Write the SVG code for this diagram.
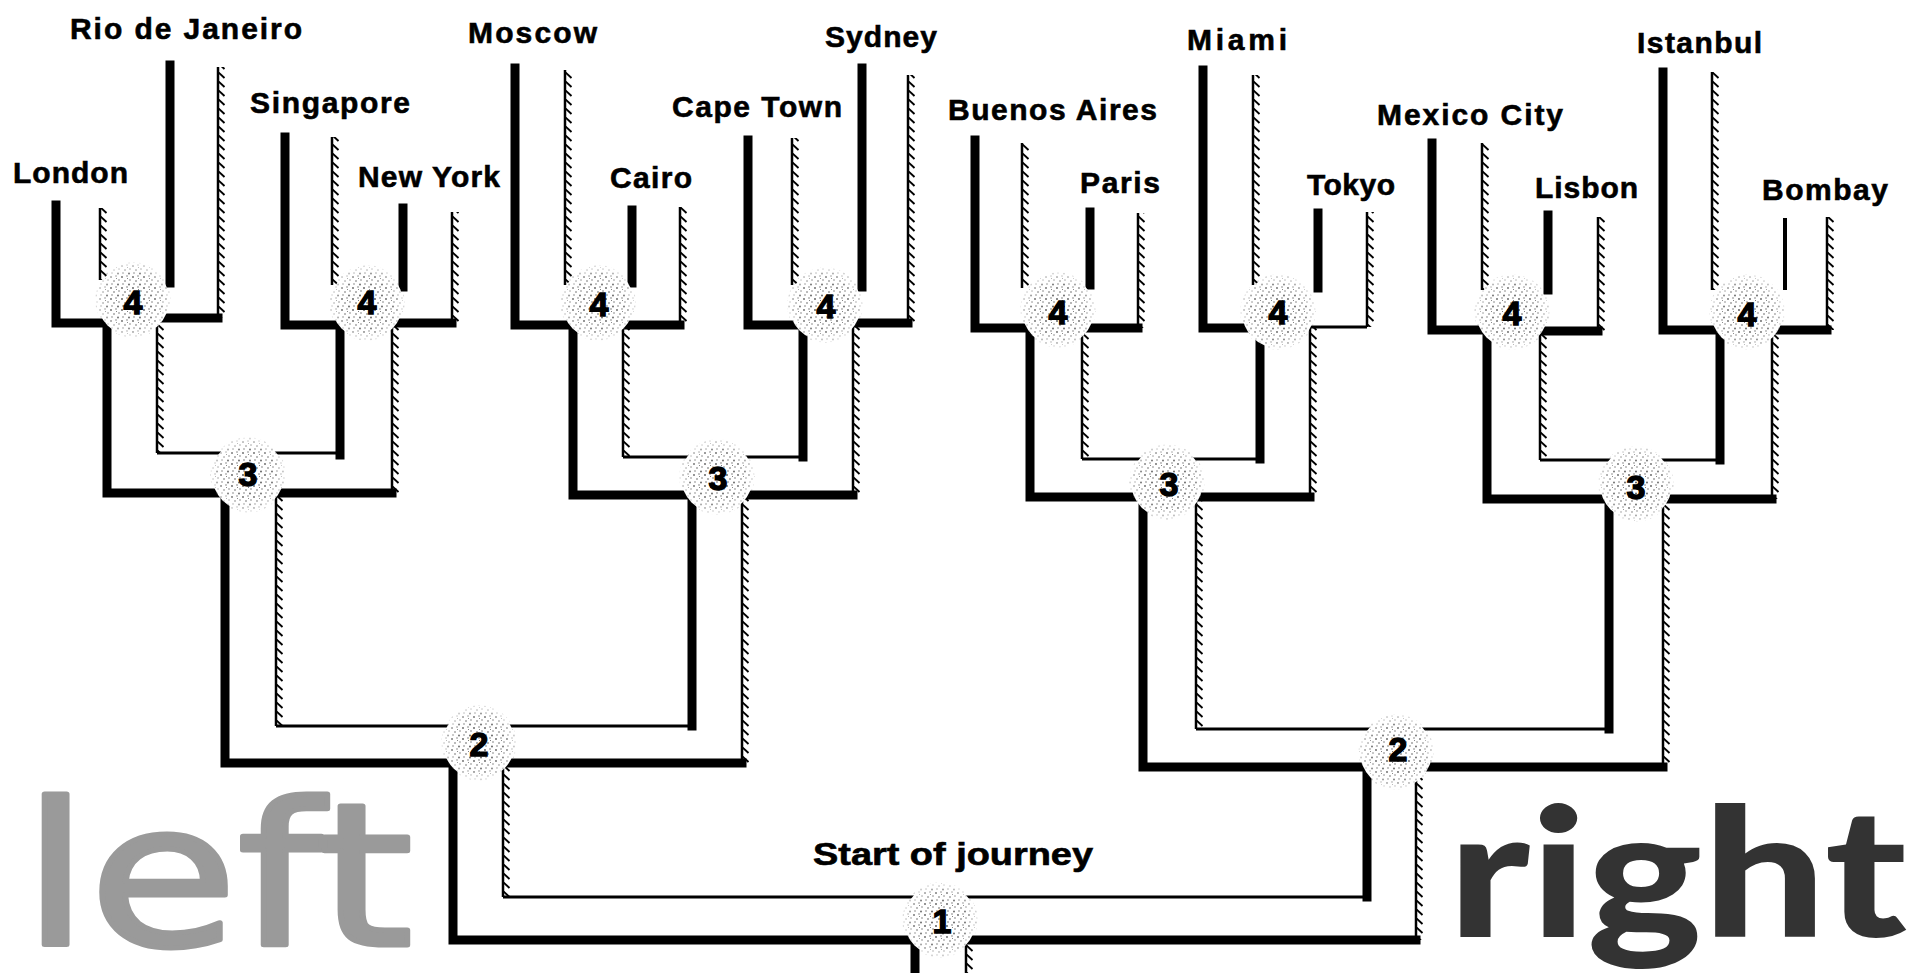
<svg xmlns="http://www.w3.org/2000/svg" width="1911" height="973" viewBox="0 0 1911 973">
<style>
.tk{fill:none;stroke:#000;stroke-width:9;stroke-linecap:square;stroke-linejoin:miter}
.tk4{fill:none;stroke:#000;stroke-width:4}
.tn{fill:none;stroke:#000;stroke-width:3}
.ht{fill:none;stroke:#000;stroke-width:2.5}
.hr{fill:url(#tk)}
.lbl{font-family:"Liberation Sans",Arial,sans-serif;font-weight:bold;font-size:30px;fill:#000;stroke:#000;stroke-width:0.6}
.num{font-family:"Liberation Sans",Arial,sans-serif;font-weight:bold;font-size:34px;fill:#000;stroke:#000;stroke-width:1.4;text-anchor:middle}
.base{fill:#fff}
.dots{fill:url(#dots)}
</style>
<defs>
<pattern id="tk" width="9" height="9" patternUnits="userSpaceOnUse">
<path d="M0.5,0.5 L6.5,6" stroke="#000" stroke-width="1.9" fill="none"/>
</pattern>
<pattern id="dots" width="11" height="11" patternUnits="userSpaceOnUse">
<circle cx="1" cy="2" r="0.9" fill="#444"/>
<circle cx="6" cy="1" r="0.7" fill="#444"/>
<circle cx="4" cy="6" r="0.8" fill="#444"/>
<circle cx="9" cy="5" r="0.7" fill="#444"/>
<circle cx="2" cy="9" r="0.7" fill="#444"/>
<circle cx="8" cy="9.5" r="0.9" fill="#444"/>
<circle cx="6.5" cy="3.5" r="0.5" fill="#444"/>
</pattern>
<radialGradient id="rg">
<stop offset="0" stop-color="#fff"/>
<stop offset="0.7" stop-color="#ccc"/>
<stop offset="1" stop-color="#333"/>
</radialGradient>
<mask id="fm" maskContentUnits="objectBoundingBox">
<circle cx="0.5" cy="0.5" r="0.5" fill="url(#rg)"/>
</mask>
</defs>
<rect width="1911" height="973" fill="#fff"/>

<g id="connectors">
<path class="tk" d="M56,205 V323 H107 V493 H225 V763 H453 V940 H915 V973"/>
<path class="tk" d="M170,65 V283"/>
<path class="tk" d="M285,137 V325 H340 V455"/>
<path class="tk" d="M403,208 V287"/>
<path class="tk" d="M515,68 V325 H573 V495 H692 V726"/>
<path class="tk" d="M632,210 V283"/>
<path class="tk" d="M748,140 V325 H803 V457"/>
<path class="tk" d="M862,68 V287"/>
<path class="tk" d="M975,140 V328 H1030 V497 H1143 V767 H1367 V897"/>
<path class="tk" d="M1090,212 V285"/>
<path class="tk" d="M1203,70 V328 H1260 V459"/>
<path class="tk" d="M1318,213 V288"/>
<path class="tk" d="M1432,143 V330 H1487 V499 H1609 V729"/>
<path class="tk" d="M1548,215 V290"/>
<path class="tk" d="M1663,72 V330 H1720 V460"/>
<path class="tk4" d="M1785,218 V290"/>
<path class="tk" d="M157,318 H218"/>
<path class="tk" d="M392,323 H452"/>
<path class="tk" d="M623,325 H680"/>
<path class="tk" d="M853,323 H908"/>
<path class="tk" d="M1082,328 H1138"/>
<path class="tn" d="M1310,327 H1367"/>
<path class="tk" d="M1540,331 H1598"/>
<path class="tk" d="M1772,330 H1827"/>
<path class="tk" d="M276,493 H392"/>
<path class="tk" d="M742,495 H853"/>
<path class="tk" d="M1196,497 H1310"/>
<path class="tk" d="M1663,499 H1772"/>
<path class="tk" d="M503,763 H742"/>
<path class="tk" d="M1416,767 H1663"/>
<path class="tk" d="M966,940 H1416"/>
<path class="tn" d="M157,453 H340"/>
<path class="tn" d="M623,457 H803"/>
<path class="tn" d="M1082,459 H1260"/>
<path class="tn" d="M1540,460 H1720"/>
<path class="tn" d="M276,726 H692"/>
<path class="tn" d="M1196,729 H1609"/>
<path class="tn" d="M503,897 H1367"/>
<g transform="translate(100,0)"><path class="ht" d="M0,208V280"/><rect class="hr" y="208" width="7" height="72"/></g>
<g transform="translate(218,0)"><path class="ht" d="M0,67V318"/><rect class="hr" y="67" width="7" height="251"/></g>
<g transform="translate(157,0)"><path class="ht" d="M0,318V453"/><rect class="hr" y="318" width="7" height="135"/></g>
<g transform="translate(332,0)"><path class="ht" d="M0,137V285"/><rect class="hr" y="137" width="7" height="148"/></g>
<g transform="translate(452,0)"><path class="ht" d="M0,212V323"/><rect class="hr" y="212" width="7" height="111"/></g>
<g transform="translate(392,0)"><path class="ht" d="M0,323V493"/><rect class="hr" y="323" width="7" height="170"/></g>
<g transform="translate(565,0)"><path class="ht" d="M0,70V285"/><rect class="hr" y="70" width="7" height="215"/></g>
<g transform="translate(680,0)"><path class="ht" d="M0,207V325"/><rect class="hr" y="207" width="7" height="118"/></g>
<g transform="translate(623,0)"><path class="ht" d="M0,325V457"/><rect class="hr" y="325" width="7" height="132"/></g>
<g transform="translate(792,0)"><path class="ht" d="M0,138V285"/><rect class="hr" y="138" width="7" height="147"/></g>
<g transform="translate(908,0)"><path class="ht" d="M0,75V323"/><rect class="hr" y="75" width="7" height="248"/></g>
<g transform="translate(853,0)"><path class="ht" d="M0,323V495"/><rect class="hr" y="323" width="7" height="172"/></g>
<g transform="translate(1022,0)"><path class="ht" d="M0,143V288"/><rect class="hr" y="143" width="7" height="145"/></g>
<g transform="translate(1138,0)"><path class="ht" d="M0,213V328"/><rect class="hr" y="213" width="7" height="115"/></g>
<g transform="translate(1082,0)"><path class="ht" d="M0,328V459"/><rect class="hr" y="328" width="7" height="131"/></g>
<g transform="translate(1253,0)"><path class="ht" d="M0,75V285"/><rect class="hr" y="75" width="7" height="210"/></g>
<g transform="translate(1367,0)"><path class="ht" d="M0,212V327"/><rect class="hr" y="212" width="7" height="115"/></g>
<g transform="translate(1310,0)"><path class="ht" d="M0,327V497"/><rect class="hr" y="327" width="7" height="170"/></g>
<g transform="translate(1482,0)"><path class="ht" d="M0,143V290"/><rect class="hr" y="143" width="7" height="147"/></g>
<g transform="translate(1598,0)"><path class="ht" d="M0,217V331"/><rect class="hr" y="217" width="7" height="114"/></g>
<g transform="translate(1540,0)"><path class="ht" d="M0,331V460"/><rect class="hr" y="331" width="7" height="129"/></g>
<g transform="translate(1712,0)"><path class="ht" d="M0,72V290"/><rect class="hr" y="72" width="7" height="218"/></g>
<g transform="translate(1827,0)"><path class="ht" d="M0,217V330"/><rect class="hr" y="217" width="7" height="113"/></g>
<g transform="translate(1772,0)"><path class="ht" d="M0,330V499"/><rect class="hr" y="330" width="7" height="169"/></g>
<g transform="translate(276,0)"><path class="ht" d="M0,493V726"/><rect class="hr" y="493" width="7" height="233"/></g>
<g transform="translate(742,0)"><path class="ht" d="M0,495V763"/><rect class="hr" y="495" width="7" height="268"/></g>
<g transform="translate(1196,0)"><path class="ht" d="M0,497V729"/><rect class="hr" y="497" width="7" height="232"/></g>
<g transform="translate(1663,0)"><path class="ht" d="M0,499V767"/><rect class="hr" y="499" width="7" height="268"/></g>
<g transform="translate(503,0)"><path class="ht" d="M0,763V897"/><rect class="hr" y="763" width="7" height="134"/></g>
<g transform="translate(1416,0)"><path class="ht" d="M0,767V940"/><rect class="hr" y="767" width="7" height="173"/></g>
<g transform="translate(966,0)"><path class="ht" d="M0,940V973"/><rect class="hr" y="940" width="7" height="33"/></g>
</g>

<g id="j4-1"><circle class="base" cx="133" cy="300" r="36"/><circle class="dots" cx="133" cy="300" r="38" mask="url(#fm)"/><text class="num" x="133" y="314">4</text></g>
<g id="j4-2"><circle class="base" cx="367" cy="303" r="36"/><circle class="dots" cx="367" cy="303" r="38" mask="url(#fm)"/><text class="num" x="367" y="314">4</text></g>
<g id="j4-3"><circle class="base" cx="598" cy="303" r="36"/><circle class="dots" cx="598" cy="303" r="38" mask="url(#fm)"/><text class="num" x="599" y="316">4</text></g>
<g id="j4-4"><circle class="base" cx="825" cy="305" r="36"/><circle class="dots" cx="825" cy="305" r="38" mask="url(#fm)"/><text class="num" x="826" y="318">4</text></g>
<g id="j4-5"><circle class="base" cx="1058" cy="310" r="36"/><circle class="dots" cx="1058" cy="310" r="38" mask="url(#fm)"/><text class="num" x="1058" y="324">4</text></g>
<g id="j4-6"><circle class="base" cx="1278" cy="312" r="36"/><circle class="dots" cx="1278" cy="312" r="38" mask="url(#fm)"/><text class="num" x="1278" y="324">4</text></g>
<g id="j4-7"><circle class="base" cx="1512" cy="312" r="36"/><circle class="dots" cx="1512" cy="312" r="38" mask="url(#fm)"/><text class="num" x="1512" y="325">4</text></g>
<g id="j4-8"><circle class="base" cx="1747" cy="312" r="36"/><circle class="dots" cx="1747" cy="312" r="38" mask="url(#fm)"/><text class="num" x="1747" y="326">4</text></g>
<g id="j3-1"><circle class="base" cx="248" cy="475" r="36"/><circle class="dots" cx="248" cy="475" r="38" mask="url(#fm)"/><text class="num" x="248" y="486">3</text></g>
<g id="j3-2"><circle class="base" cx="717" cy="477" r="36"/><circle class="dots" cx="717" cy="477" r="38" mask="url(#fm)"/><text class="num" x="718" y="490">3</text></g>
<g id="j3-3"><circle class="base" cx="1167" cy="482" r="36"/><circle class="dots" cx="1167" cy="482" r="38" mask="url(#fm)"/><text class="num" x="1169" y="496">3</text></g>
<g id="j3-4"><circle class="base" cx="1636" cy="484" r="36"/><circle class="dots" cx="1636" cy="484" r="38" mask="url(#fm)"/><text class="num" x="1636" y="499">3</text></g>
<g id="j2-1"><circle class="base" cx="479" cy="743" r="36"/><circle class="dots" cx="479" cy="743" r="38" mask="url(#fm)"/><text class="num" x="479" y="756">2</text></g>
<g id="j2-2"><circle class="base" cx="1396" cy="752" r="36"/><circle class="dots" cx="1396" cy="752" r="38" mask="url(#fm)"/><text class="num" x="1398" y="761">2</text></g>
<g id="j1"><circle class="base" cx="940" cy="920" r="36"/><circle class="dots" cx="940" cy="920" r="38" mask="url(#fm)"/><text class="num" x="942" y="933">1</text></g>

<g id="london"><text class="lbl" x="13" y="183" textLength="115">London</text></g>
<g id="rio"><text class="lbl" x="70" y="39" textLength="232">Rio de Janeiro</text></g>
<g id="singapore"><text class="lbl" x="250" y="113" textLength="160">Singapore</text></g>
<g id="newyork"><text class="lbl" x="358" y="187" textLength="142">New York</text></g>
<g id="moscow"><text class="lbl" x="468" y="43" textLength="129">Moscow</text></g>
<g id="cairo"><text class="lbl" x="610" y="188" textLength="82">Cairo</text></g>
<g id="capetown"><text class="lbl" x="672" y="117" textLength="170">Cape Town</text></g>
<g id="sydney"><text class="lbl" x="825" y="47" textLength="112">Sydney</text></g>
<g id="buenosaires"><text class="lbl" x="948" y="120" textLength="209">Buenos Aires</text></g>
<g id="paris"><text class="lbl" x="1080" y="193" textLength="80">Paris</text></g>
<g id="miami"><text class="lbl" x="1187" y="50" textLength="100">Miami</text></g>
<g id="tokyo"><text class="lbl" x="1307" y="195" textLength="88">Tokyo</text></g>
<g id="mexicocity"><text class="lbl" x="1377" y="125" textLength="186">Mexico City</text></g>
<g id="lisbon"><text class="lbl" x="1535" y="198" textLength="103">Lisbon</text></g>
<g id="istanbul"><text class="lbl" x="1637" y="53" textLength="125">Istanbul</text></g>
<g id="bombay"><text class="lbl" x="1762" y="200" textLength="126">Bombay</text></g>
<g id="start"><text class="lbl" x="813" y="865" textLength="280" lengthAdjust="spacingAndGlyphs" style="font-size:31px">Start of journey</text></g>

<g id="word-left"><text x="22" y="945" textLength="391" lengthAdjust="spacingAndGlyphs" style="font-family:'DejaVu Sans',sans-serif;font-size:198px;fill:#9a9a9a;stroke:#9a9a9a;stroke-width:5;stroke-linejoin:round">left</text></g>
<g id="word-right"><text x="1448" y="937" textLength="459" lengthAdjust="spacingAndGlyphs" style="font-family:Lato,'DejaVu Sans',sans-serif;font-weight:900;font-size:180px;fill:#333">right</text></g>
</svg>
